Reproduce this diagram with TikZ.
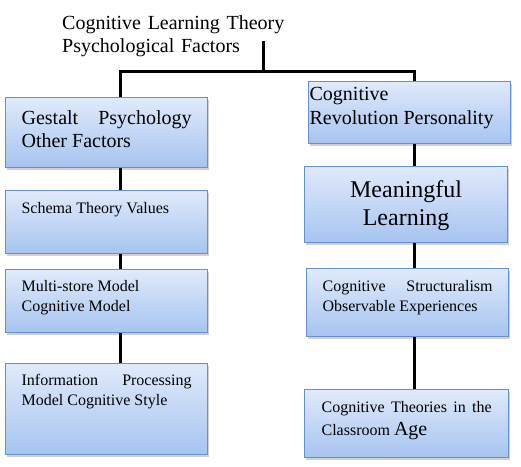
\documentclass[tikz,border=0pt]{standalone}
\usepackage{fontspec}
\setmainfont{Liberation Serif}
\usepackage{tikz}
\usetikzlibrary{positioning, shadows}
\definecolor{boxtop}{RGB}{224, 234, 251}
\definecolor{boxbottom}{RGB}{166, 196, 240}
\definecolor{boxline}{RGB}{98, 145, 214}
% box text: height, width, first baseline, text
\newcommand{\boxtext}[4]{\parbox[c][#1pt][t]{#2pt}{\rule{0pt}{#3pt}#4}}
\newcommand{\bigtxt}{\fontsize{20}{23}\selectfont}
\newcommand{\smalltxt}{\fontsize{16}{19.5}\selectfont}

\begin{document}
\begin{tikzpicture}[x=1pt, y=-1pt,
    box/.style={draw=boxline, line width=1.2pt, top color=boxtop, bottom color=boxbottom,
        anchor=north west, inner ysep=0pt,
        drop shadow={shadow xshift=1.5pt, shadow yshift=-2.5pt, opacity=0.3, fill=black!60}},
    link/.style={line width=3pt, black}]
    \useasboundingbox (0,0) rectangle (521,466);
    % heading
    \node[anchor=base west, inner sep=0pt, text width=260pt, align=left, font=\bigtxt] (title) at (62,29)
        {Cognitive Learning Theory\\Psychological Factors};
    \coordinate (root) at (263,41);
    \coordinate (bar) at (263,71);
    \coordinate (lspine) at (120,0);
    \coordinate (rspine) at (414,0);
    % left column
    \node[box, inner xsep=16pt] (gestalt) at (5,97)
        {\bigtxt\boxtext{70}{170}{27}{Gestalt\hfill Psychology\\Other Factors}};
    \node[box, inner xsep=16pt] (schema) at (5,190)
        {\smalltxt\boxtext{63}{170}{23}{Schema Theory Values}};
    \node[box, inner xsep=16pt] (multistore) at (5,269)
        {\smalltxt\boxtext{63}{170}{22}{Multi-store Model\\Cognitive Model}};
    \node[box, inner xsep=16pt] (info) at (5,363)
        {\smalltxt\boxtext{91}{170}{22}{Information\hfill Processing\\Model Cognitive Style}};
    % right column
    \node[box, inner xsep=1pt] (revolution) at (308,81)
        {\bigtxt\boxtext{62}{200}{19}{Cognitive\\[1pt]Revolution Personality}};
    \node[box, inner xsep=1pt] (meaningful) at (304,166)
        {\fontsize{24}{28}\selectfont\boxtext{76}{201}{31}{\centering Meaningful\\Learning\par}};
    \node[box, inner xsep=16pt] (structuralism) at (306,268)
        {\smalltxt\boxtext{68}{170}{23}{Cognitive\hfill Structuralism\\Observable Experiences}};
    \node[box, inner xsep=17pt] (theories) at (304,389)
        {\smalltxt\boxtext{68}{170}{23}{Cognitive\hfill Theories\hfill in\hfill the\\[3.5pt]Classroom {\bigtxt Age}}};
    % connectors
    \draw[link] (root) -- (bar);
    \draw[link] (gestalt.north -| lspine) |- (bar) -| (revolution.north -| rspine);
    \draw[link] (gestalt.south -| lspine) -- (schema.north -| lspine);
    \draw[link] (schema.south -| lspine) -- (multistore.north -| lspine);
    \draw[link] (multistore.south -| lspine) -- (info.north -| lspine);
    \draw[link] (revolution.south -| rspine) -- (meaningful.north -| rspine);
    \draw[link] (meaningful.south -| rspine) -- (structuralism.north -| rspine);
    \draw[link] (structuralism.south -| rspine) -- (theories.north -| rspine);
\end{tikzpicture}
\end{document}
